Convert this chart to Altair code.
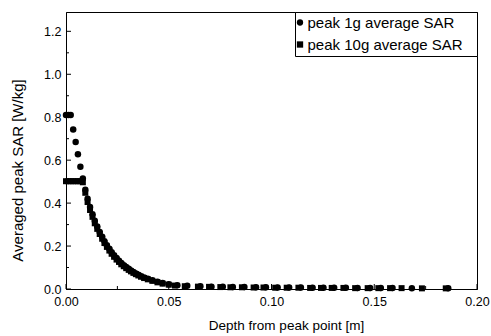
import altair as alt
import pandas as pd

FONT = "Liberation Sans"
NAME_1G = "peak 1g average SAR"
NAME_10G = "peak 10g average SAR"

# Depth [m] and averaged peak SAR [W/kg] for the 1 g averaging volume
depth_1g = [
    0.0000, 0.0012, 0.0023, 0.0035, 0.0047, 0.0058, 0.0070, 0.0082, 0.0094, 0.0105,
    0.0117, 0.0129, 0.0140, 0.0152, 0.0164, 0.0176, 0.0187, 0.0199, 0.0211, 0.0222,
    0.0234, 0.0246, 0.0258, 0.0269, 0.0281, 0.0293, 0.0305, 0.0316, 0.0328, 0.0340,
    0.0352, 0.0365, 0.0380, 0.0398, 0.0420, 0.0445, 0.0470, 0.0500,
    0.0542, 0.0590, 0.0654, 0.0708, 0.0763, 0.0812, 0.0868, 0.0925, 0.0973, 0.1030,
    0.1086, 0.1143, 0.1200, 0.1253, 0.1305, 0.1362, 0.1419, 0.1480, 0.1532, 0.1589,
    0.1683, 0.1860,
]
sar_1g = [
    0.810, 0.810, 0.810, 0.743, 0.685, 0.628, 0.569, 0.515, 0.462, 0.420,
    0.382, 0.348, 0.318, 0.291, 0.266, 0.243, 0.223, 0.204, 0.187, 0.171,
    0.157, 0.144, 0.132, 0.121, 0.111, 0.102, 0.094, 0.086, 0.079, 0.072,
    0.066, 0.060, 0.054, 0.048, 0.041, 0.034, 0.028, 0.022,
    0.018, 0.015, 0.013, 0.011, 0.010, 0.009, 0.009, 0.008, 0.008, 0.007,
    0.007, 0.007, 0.006, 0.006, 0.006, 0.006, 0.005, 0.005, 0.005, 0.005,
    0.004, 0.004,
]

# Depth [m] and averaged peak SAR [W/kg] for the 10 g averaging volume
depth_10g = [
    0.0000, 0.0012, 0.0023, 0.0035, 0.0047, 0.0058, 0.0070, 0.0082, 0.0094, 0.0105,
    0.0117, 0.0129, 0.0140, 0.0152, 0.0164, 0.0176, 0.0187, 0.0199, 0.0211, 0.0222,
    0.0234, 0.0246, 0.0258, 0.0269, 0.0281, 0.0293, 0.0305, 0.0316, 0.0328, 0.0340,
    0.0352, 0.0365, 0.0380, 0.0398, 0.0420, 0.0445, 0.0470, 0.0500,
    0.0530, 0.0578, 0.0642, 0.0696, 0.0751, 0.0800, 0.0856, 0.0913, 0.0961, 0.1018,
    0.1074, 0.1131, 0.1188, 0.1241, 0.1293, 0.1350, 0.1407, 0.1468, 0.1520, 0.1577,
    0.1633, 0.1732, 0.1848,
]
sar_10g = [
    0.502, 0.502, 0.502, 0.502, 0.502, 0.502, 0.502, 0.497, 0.448, 0.405,
    0.368, 0.336, 0.306, 0.280, 0.256, 0.234, 0.214, 0.196, 0.179, 0.164,
    0.150, 0.137, 0.126, 0.115, 0.106, 0.097, 0.089, 0.082, 0.075, 0.069,
    0.063, 0.057, 0.051, 0.045, 0.038, 0.031, 0.025, 0.020,
    0.016, 0.013, 0.011, 0.010, 0.009, 0.008, 0.008, 0.007, 0.007, 0.006,
    0.006, 0.006, 0.005, 0.005, 0.005, 0.005, 0.004, 0.004, 0.004, 0.004,
    0.004, 0.003, 0.003,
]

x_major = [0.0, 0.05, 0.10, 0.15, 0.20]
x_minor = [0.025, 0.075, 0.125, 0.175]
y_major = [0.0, 0.2, 0.4, 0.6, 0.8, 1.0, 1.2]
y_minor = [0.1, 0.3, 0.5, 0.7, 0.9, 1.1]

W, H = 411, 277
MAJOR_LEN, MINOR_LEN = 5, 3

df_1g = pd.DataFrame({"depth": depth_1g, "sar": sar_1g, "series": NAME_1G})
df_10g = pd.DataFrame({"depth": depth_10g, "sar": sar_10g, "series": NAME_10G})

x_scale = alt.Scale(domain=[0, 0.2], nice=False, zero=False)
y_scale = alt.Scale(domain=[0, 1.29], nice=False, zero=False)

x_axis = alt.Axis(
    orient="bottom", values=x_major, format=".2f", ticks=False, tickSize=0,
    labelPadding=6, labelFlush=False, grid=False, title="Depth from peak point [m]",
    titleX=220, titleY=36, titleBaseline="middle", titleFontSize=13.5,
)
y_axis = alt.Axis(
    orient="left", values=y_major, format=".1f", ticks=False, tickSize=0,
    labelPadding=5, labelFlush=False, grid=False, title="Averaged peak SAR [W/kg]",
    titleX=-49, titleY=158, titleBaseline="middle", titleAngle=270, titleFontSize=15,
)

# A trailing blank glyph (not trimmed as whitespace) widens the legend box
legend = alt.Legend(
    title=None,
    orient="top-right",
    offset=0,
    padding=3,
    strokeColor="black",
    fillColor="white",
    labelFont=FONT,
    labelFontSize=15,
    labelColor="black",
    labelLimit=400,
    labelOffset=0,
    rowPadding=6,
    symbolSize=40,
    symbolOffset=-5.5,
    symbolFillColor="black",
    symbolStrokeWidth=0,
    labelExpr="datum.label + '\u2800'",
)
shape = alt.Shape(
    "series:N",
    scale=alt.Scale(domain=[NAME_1G, NAME_10G], range=["circle", "square"]),
    legend=legend,
)

circles = alt.Chart(df_1g).mark_point(filled=True, size=42, color="black", opacity=1).encode(
    x=alt.X("depth:Q", scale=x_scale, axis=x_axis),
    y=alt.Y("sar:Q", scale=y_scale, axis=y_axis),
    shape=shape,
)

squares = alt.Chart(df_10g).mark_point(filled=True, size=36, color="black", opacity=1).encode(
    x=alt.X("depth:Q", scale=x_scale, axis=x_axis),
    y=alt.Y("sar:Q", scale=y_scale, axis=y_axis),
    shape=shape,
)


# Inward-pointing ticks along the bottom and left edges
def x_ticks(values, length):
    return alt.Chart(pd.DataFrame({"depth": values})).mark_rule(color="black", strokeWidth=1).encode(
        x=alt.X("depth:Q", scale=x_scale, axis=x_axis),
        y=alt.value(H),
        y2=alt.value(H - length),
    )


def y_ticks(values, length):
    return alt.Chart(pd.DataFrame({"sar": values})).mark_rule(color="black", strokeWidth=1).encode(
        y=alt.Y("sar:Q", scale=y_scale, axis=y_axis),
        x=alt.value(0),
        x2=alt.value(length),
    )


chart = (
    alt.layer(
        circles, squares,
        x_ticks(x_major, MAJOR_LEN), x_ticks(x_minor, MINOR_LEN),
        y_ticks(y_major, MAJOR_LEN), y_ticks(y_minor, MINOR_LEN),
    )
    .properties(
        width=W,
        height=H,
        padding={"left": 66, "top": 12, "right": 14, "bottom": 47},
        autosize=alt.AutoSizeParams(type="none"),
    )
    .configure_view(stroke="black", strokeWidth=1)
    .configure_axis(
        labelFont=FONT,
        titleFont=FONT,
        labelFontSize=12.5,
        labelColor="black",
        titleColor="black",
        titleFontWeight="normal",
        domainColor="black",
        tickColor="black",
    )
)

chart.save("out.html", embed_options={"renderer": "svg", "actions": False})
